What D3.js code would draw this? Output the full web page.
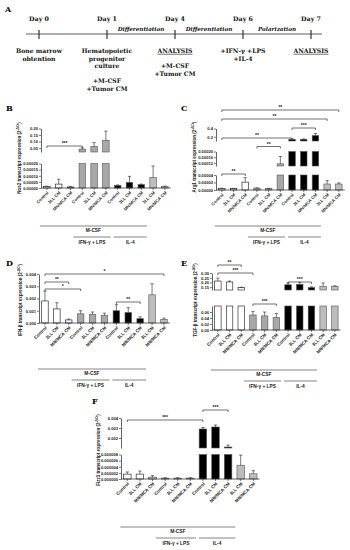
<!DOCTYPE html>
<html>
<head>
<meta charset="utf-8">
<script src="https://cdn.jsdelivr.net/npm/d3@7"></script>
<style>
  body { margin: 0; background: #fff; }
  svg { display: block; }
</style>
</head>
<body>
<script>
// ---- data ----
var days = ["Day 0", "Day 1", "Day 4", "Day 6", "Day 7"];
var phases = ["Differentiation", "Differentiation", "Polarization"];
var dayNotes = [
    ["Bone marrow", "obtention"],
    ["Hematopoietic", "progenitor", "culture", "", "+M-CSF", "+Tumor CM"],
    ["ANALYSIS", "", "+M-CSF", "+Tumor CM"],
    ["+IFN-\u03b3 +LPS", "+IL-4"],
    ["ANALYSIS"]
];

var cats = ["Control", "3LL CM", "MN/MCA CM", "Control", "3LL CM", "MN/MCA CM",
            "Control", "3LL CM", "MN/MCA CM", "3LL CM", "MN/MCA CM"];
var condition = ["none", "none", "none", "lps", "lps", "lps", "il4", "il4", "il4", "cm", "cm"];

var nos2Mean = [0.000012, 0.000032, 0.000008, 0.042, 0.062, 0.11, 0.00002, 0.000045, 0.000027, 0.000085, 0.000012];
var nos2Err  = [0.000003, 0.00004, 0.000003, 0.01, 0.03, 0.07, 0.000005, 0.00005, 0.000005, 0.000095, 0.000003];
var nos2Sig  = [[0, 3, "***"]];

var arg1Mean = [0.000004, 0.0000035, 0.000021, 0.000005, 0.000004, 0.000115, 0.14, 0.14, 0.23, 0.000016, 0.000016];
var arg1Err  = [0.0000008, 0.0000008, 0.000012, 0.0000008, 0.0000006, 0.00005, 0.01, 0.01, 0.05, 0.000009, 0.000003];
var arg1Sig  = [[0, 10, "**"], [0, 9, "**"], [6, 8, "***"], [0, 6, "**"], [3, 5, "**"], [0, 2, "**"]];

var ifnbMean = [0.0018, 0.00115, 0.00025, 0.00075, 0.0007, 0.0006, 0.001, 0.00085, 0.00035, 0.0023, 0.0003];
var ifnbErr  = [0.0008, 0.0005, 0.00007, 0.00025, 0.0002, 0.0002, 0.0005, 0.0004, 0.00015, 0.0009, 0.0001];
var ifnbSig  = [[0, 10, "*"], [0, 2, "**"], [0, 3, "*"], [6, 8, "**"]];

var tgfbMean = [0.215, 0.205, 0.145, 0.05, 0.047, 0.042, 0.175, 0.18, 0.145, 0.16, 0.16];
var tgfbErr  = [0.03, 0.01, 0.004, 0.012, 0.013, 0.013, 0.02, 0.02, 0.008, 0.035, 0.004];
var tgfbSig  = [[0, 2, "**"], [0, 3, "***"], [6, 8, "***"], [3, 5, "***"]];

var fizz1Mean = [0.0000016, 0.0000016, 0.0000006, 0.0000003, 0.0000003, 0.0000003, 0.0029, 0.0031, 0.0011, 0.0000045, 0.0000017];
var fizz1Err  = [0.0000007, 0.000001, 0.0000005, 0.0000001, 0.0000001, 0.0000001, 0.00015, 0.0002, 0.0002, 0.0000033, 0.000001];
var fizz1Sig  = [[6, 8, "***"], [0, 6, "***"]];

var nos2Ticks = [[0, 0.00005, 0.0001, 0.00015, 0.0002], [0.05, 0.1, 0.15, 0.2]];
var arg1Ticks = [[0, 0.00002, 0.00004], [0.00012, 0.00016, 0.0002], [0.2, 0.4]];
var ifnbTicks = [[0, 0.001, 0.002, 0.003, 0.004]];
var tgfbTicks = [[0, 0.02, 0.04, 0.06], [0.15, 0.2, 0.25, 0.3]];
var fizz1Ticks = [[0, 0.000002, 0.000004, 0.000006, 0.000008], [0.002, 0.003, 0.004]];

// ---- style ----
var fills = { none: "#ffffff", lps: "#a8a8a8", il4: "#000000", cm: "#bdbdbd" };
var chartFont = "Liberation Sans, Arial, sans-serif";
var serifFont = "DejaVu Serif, serif";

var svg = d3.select("body")
    .append("svg")
    .attr("width", 350)
    .attr("height", 550);

svg.append("rect").attr("width", 350).attr("height", 550).attr("fill", "#fff");

// ---- panel A: timeline ----
function drawTimeline() {
    var g = svg.append("g").attr("font-family", serifFont).attr("font-weight", "bold").attr("fill", "#111");
    var tx = d3.scalePoint().domain(days).range([39, 311]);
    var lineY = 34;

    g.append("text").attr("x", 5).attr("y", 12).attr("font-size", 8).text("A");

    g.append("line")
        .attr("x1", 26).attr("x2", 322)
        .attr("y1", lineY).attr("y2", lineY)
        .attr("stroke", "#333").attr("stroke-width", 0.8);

    g.selectAll(".dtick").data(days).enter().append("line")
        .attr("x1", function(d) { return tx(d); })
        .attr("x2", function(d) { return tx(d); })
        .attr("y1", lineY - 4).attr("y2", lineY + 5)
        .attr("stroke", "#111").attr("stroke-width", 1);

    g.selectAll(".dlab").data(days).enter().append("text")
        .attr("x", function(d) { return tx(d); })
        .attr("y", 21)
        .attr("text-anchor", "middle")
        .attr("font-size", 6.3)
        .text(function(d) { return d; });

    g.selectAll(".phase").data(phases).enter().append("text")
        .attr("x", function(d, i) { return (tx(days[i + 1]) + tx(days[i + 2])) / 2; })
        .attr("y", 31)
        .attr("text-anchor", "middle")
        .attr("font-size", 5.6)
        .attr("font-style", "italic")
        .text(function(d) { return d; });

    dayNotes.forEach(function(lines, i) {
        lines.forEach(function(t, j) {
            if (!t) return;
            var txt = g.append("text")
                .attr("x", tx(days[i]))
                .attr("y", 53 + j * 7.6)
                .attr("text-anchor", "middle")
                .attr("font-size", 6.1)
                .text(t);
            if (t === "ANALYSIS") {
                var w = txt.node().getComputedTextLength();
                g.append("line")
                    .attr("x1", tx(days[i]) - w / 2).attr("x2", tx(days[i]) + w / 2)
                    .attr("y1", 53 + j * 7.6 + 1.2).attr("y2", 53 + j * 7.6 + 1.2)
                    .attr("stroke", "#111").attr("stroke-width", 0.6);
            }
        });
    });
}

// ---- bar panels ----
function drawPanel(cfg, mean, err, sig, ticks) {
    var g = svg.append("g").attr("font-family", chartFont).attr("font-weight", "bold");
    var n = cats.length;
    var x = d3.scalePoint()
        .domain(d3.range(n))
        .range([cfg.axisX, cfg.axisX + n * cfg.step])
        .padding(0.5);
    var bw = cfg.barW;
    var rows = mean.map(function(v, i) { return { v: v, e: err[i], i: i }; });

    g.append("text")
        .attr("x", cfg.letter[0]).attr("y", cfg.letter[1])
        .attr("font-family", serifFont).attr("font-size", 8)
        .text(cfg.name);

    var base = null;
    cfg.segs.forEach(function(s, k) {
        var y = d3.scaleLinear().domain(s.domain).range(s.range);
        if (k === 0) base = y(s.domain[0]);

        // bars clipped to the segment
        g.append("g").selectAll("rect")
            .data(rows.filter(function(d) { return d.v > s.domain[0]; }))
            .enter().append("rect")
            .attr("x", function(d) { return x(d.i) - bw / 2; })
            .attr("y", function(d) { return y(Math.min(d.v, s.domain[1])); })
            .attr("width", bw)
            .attr("height", function(d) { return y(s.domain[0]) - y(Math.min(d.v, s.domain[1])); })
            .attr("fill", function(d) { return fills[condition[d.i]]; })
            .attr("stroke", function(d) { return condition[d.i] === "none" ? "#111" : "#555"; })
            .attr("stroke-width", 0.6);

        // error bars
        rows.forEach(function(d) {
            var lo = Math.max(d.v, s.domain[0]);
            var hi = Math.min(d.v + d.e, s.domain[1]);
            if (hi <= lo) return;
            g.append("line")
                .attr("x1", x(d.i)).attr("x2", x(d.i))
                .attr("y1", y(lo)).attr("y2", y(hi))
                .attr("stroke", "#222").attr("stroke-width", 0.6);
            if (d.v + d.e <= s.domain[1]) {
                g.append("line")
                    .attr("x1", x(d.i) - 1.6).attr("x2", x(d.i) + 1.6)
                    .attr("y1", y(hi)).attr("y2", y(hi))
                    .attr("stroke", "#222").attr("stroke-width", 0.6);
            }
        });

        var ax = g.append("g")
            .attr("transform", "translate(" + cfg.axisX + ",0)")
            .call(d3.axisLeft(y).tickValues(ticks[k]).tickFormat(d3.format(s.fmt))
                .tickSize(2).tickSizeOuter(0).tickPadding(1));
        ax.attr("font-size", null).attr("font-family", null);
        ax.selectAll("text").attr("font-size", 4.1).attr("fill", "#222");
        ax.selectAll("line").attr("stroke", "#222").attr("stroke-width", 0.6);
        ax.select(".domain").attr("stroke", "#222").attr("stroke-width", 0.7);
    });

    // x baseline and ticks
    g.append("line")
        .attr("x1", cfg.axisX).attr("x2", cfg.axisX + n * cfg.step)
        .attr("y1", base).attr("y2", base)
        .attr("stroke", "#222").attr("stroke-width", 0.7);
    g.selectAll(".xt").data(cats).enter().append("line")
        .attr("x1", function(d, i) { return x(i); })
        .attr("x2", function(d, i) { return x(i); })
        .attr("y1", base).attr("y2", base + 2)
        .attr("stroke", "#222").attr("stroke-width", 0.6);

    g.selectAll(".xl").data(cats).enter().append("text")
        .attr("transform", function(d, i) { return "translate(" + (x(i) + 1) + "," + (base + 4) + ") rotate(-45)"; })
        .attr("text-anchor", "end")
        .attr("dy", "0.35em")
        .attr("font-size", cfg.catSize)
        .attr("fill", "#222")
        .text(function(d) { return d; });

    // y title
    var t = g.append("text")
        .attr("transform", "translate(" + cfg.titleX + "," + cfg.titleY + ") rotate(-90)")
        .attr("text-anchor", "middle")
        .attr("font-size", 4.5)
        .attr("fill", "#222");
    t.append("tspan").text(cfg.title + " transcript expression (2");
    t.append("tspan").attr("dy", -1.6).attr("font-size", 3.2).text("-\u0394Ct");
    t.append("tspan").attr("dy", 1.6).text(")");

    // significance brackets
    sig.forEach(function(s, k) {
        var yy = cfg.sigY[k];
        g.append("path")
            .attr("d", "M" + x(s[0]) + "," + (yy + 2) + "V" + yy + "H" + x(s[1]) + "V" + (yy + 2))
            .attr("fill", "none").attr("stroke", "#333").attr("stroke-width", 0.7);
        g.append("text")
            .attr("x", (x(s[0]) + x(s[1])) / 2).attr("y", yy - 0.8)
            .attr("text-anchor", "middle").attr("font-size", 5)
            .attr("fill", "#222")
            .text(s[2]);
    });

    // treatment groups
    var gy = cfg.groupY;
    var gl = function(x1, x2, yy) {
        g.append("line").attr("x1", x1).attr("x2", x2).attr("y1", yy).attr("y2", yy)
            .attr("stroke", "#666").attr("stroke-width", 0.8);
    };
    var gt = function(xx, yy, txt) {
        g.append("text").attr("x", xx).attr("y", yy).attr("text-anchor", "middle")
            .attr("font-size", 4.8).attr("fill", "#222").text(txt);
    };
    var a0 = x(0) - 7, a1 = x(n - 1) - 18;
    gl(a0, a1, gy);
    gt((a0 + a1) / 2, gy + 6, "M-CSF");
    var b0 = x(3) - 9, b1 = x(6) - 7, c0 = x(6) - 4;
    gl(b0, b1, gy + 11);
    gl(c0, a1, gy + 11);
    gt((b0 + b1) / 2, gy + 17.5, "IFN-\u03b3 + LPS");
    gt((c0 + a1) / 2, gy + 17.5, "IL-4");
}

drawTimeline();

drawPanel({
    name: "B", letter: [6, 111], axisX: 41, step: 11.8, barW: 6.5, catSize: 4.3,
    title: "Nos2", titleX: 21, titleY: 158,
    segs: [
        { domain: [0, 0.0002], range: [188, 163.5], fmt: ".5f" },
        { domain: [0.02, 0.2], range: [152, 128.5], fmt: ".2f" }
    ],
    sigY: [146], groupY: 226
}, nos2Mean, nos2Err, nos2Sig, nos2Ticks);

drawPanel({
    name: "C", letter: [181, 111], axisX: 216, step: 11.7, barW: 6.5, catSize: 4.3,
    title: "Arg1", titleX: 196, titleY: 157,
    segs: [
        { domain: [0, 0.00004], range: [190, 175], fmt: ".5f" },
        { domain: [0.0001, 0.0002], range: [166, 151.5], fmt: ".5f" },
        { domain: [0.1, 0.4], range: [141, 128.5], fmt: ".1f" }
    ],
    sigY: [110, 119, 128, 138, 146.5, 174], groupY: 226
}, arg1Mean, arg1Err, arg1Sig, arg1Ticks);

drawPanel({
    name: "D", letter: [6, 266], axisX: 39, step: 11.9, barW: 6.5, catSize: 4.5,
    title: "IFN-\u03b2", titleX: 22, titleY: 300,
    segs: [
        { domain: [0, 0.004], range: [323, 274], fmt: ".3f" }
    ],
    sigY: [274, 282, 289, 302], groupY: 369
}, ifnbMean, ifnbErr, ifnbSig, ifnbTicks);

drawPanel({
    name: "E", letter: [181, 266], axisX: 212, step: 11.7, barW: 6.5, catSize: 4.5,
    title: "TGF-\u03b2", titleX: 197, titleY: 300,
    segs: [
        { domain: [0, 0.08], range: [330, 306], fmt: ".2f" },
        { domain: [0.12, 0.3], range: [290, 273], fmt: ".2f" }
    ],
    sigY: [265, 273, 282, 304], groupY: 370
}, tgfbMean, tgfbErr, tgfbSig, tgfbTicks);

drawPanel({
    name: "F", letter: [92, 404], axisX: 121, step: 12.6, barW: 7.5, catSize: 4.5,
    title: "Fizz1", titleX: 100, titleY: 450,
    segs: [
        { domain: [0, 0.000008], range: [479, 454.5], fmt: ".6f" },
        { domain: [0.001, 0.004], range: [448, 418], fmt: ".3f" }
    ],
    sigY: [410, 420], groupY: 527
}, fizz1Mean, fizz1Err, fizz1Sig, fizz1Ticks);
</script>
</body>
</html>
